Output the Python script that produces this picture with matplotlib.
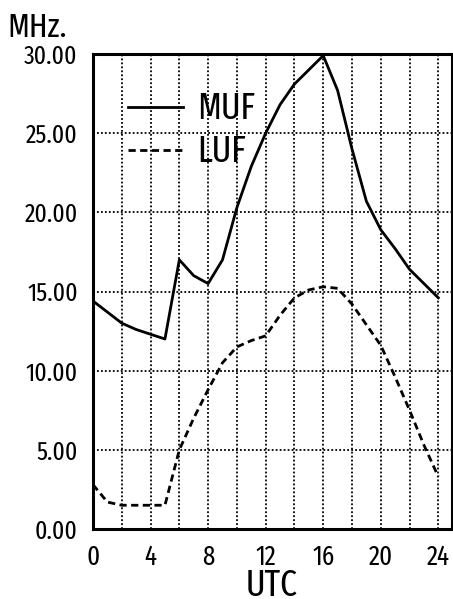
import matplotlib
matplotlib.use("Agg")
import matplotlib.pyplot as plt

# ── Data ──────────────────────────────────────────────────────────────────────
hours = list(range(0, 25))
muf = [14.4, 13.7, 13.0, 12.6, 12.3, 12.0, 17.0, 16.0, 15.5, 17.0, 20.3, 22.9,
       25.0, 26.8, 28.1, 29.0, 29.9, 27.7, 24.0, 20.7, 18.9, 17.7, 16.4, 15.5, 14.6]
luf = [2.8, 1.7, 1.5, 1.5, 1.5, 1.5, 5.0, 7.0, 8.8, 10.5, 11.5, 11.9,
       12.2, 13.5, 14.6, 15.1, 15.3, 15.2, 14.2, 12.9, 11.6, 9.6, 7.5, 5.3, 3.3]
x_ticks = [0, 4, 8, 12, 16, 20, 24]
y_ticks = [0, 5, 10, 15, 20, 25, 30]

plt.rcParams["font.family"] = ["Fira Sans Extra Condensed", "DejaVu Sans"]

W, H = 453, 599
fig = plt.figure(figsize=(W / 100, H / 100), dpi=100)
ax = fig.add_axes([93 / W, 1 - 529 / H, 359 / W, 475 / H])

# dotted grid every 2 h / 5 MHz
for gx in range(2, 25, 2):
    ax.axvline(gx, color="black", lw=1.3, linestyle=(0, (1, 1.2)), zorder=1)
for gy in y_ticks[1:-1]:
    ax.axhline(gy, color="black", lw=1.3, linestyle=(0, (1, 1.2)), zorder=1)

ax.plot(hours, muf, color="black", lw=2.0, label="MUF", zorder=3)
ax.plot(hours, luf, color="black", lw=2.0, linestyle=(0, (2.6, 1.6)), label="LUF", zorder=3)

ax.set_xlim(0, 24.95)
ax.set_ylim(0, 30)
ax.set_xticks(x_ticks)
ax.set_xticklabels([str(v) for v in x_ticks], fontsize=19.5)
ax.set_yticks(y_ticks)
ax.set_yticklabels([f"{v:.2f}" for v in y_ticks], fontsize=18.5)
ax.tick_params(axis="y", length=0, pad=11)
ax.tick_params(axis="x", length=0, pad=10.5)
for sp in ax.spines.values():
    sp.set_linewidth(2.2)

ax.legend(loc="upper left", bbox_to_anchor=(0.0975, 0.922), frameon=False,
          fontsize=26, handlelength=1.53, handletextpad=0.39, labelspacing=0.2,
          borderpad=0, borderaxespad=0)

fig.text(7 / W, 1 - 37 / H, "MHz.", fontsize=24, va="baseline", ha="left")
fig.text(272 / W, 3 / H, "UTC", fontsize=26, va="baseline", ha="center")

fig.savefig("out.png", dpi=100)
